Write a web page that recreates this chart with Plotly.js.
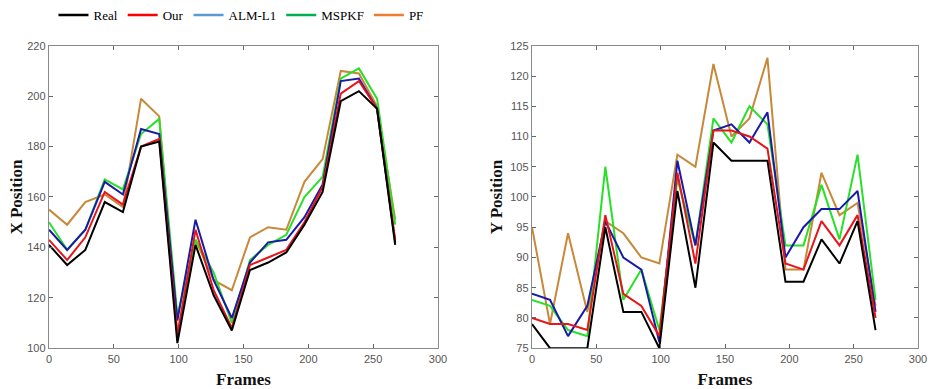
<!DOCTYPE html>
<html><head><meta charset="utf-8">
<script src="https://cdn.plot.ly/plotly-3.0.1.min.js"></script>
<style>html,body{margin:0;padding:0;background:#fff}#chart{width:934px;height:389px}</style>
</head><body><div id="chart"></div>
<script>
const frames = [0,14,28,43,57,71,85,99,113,127,141,155,169,183,197,211,225,239,253,267];
const seriesNames = ["Real","Our","ALM-L1","MSPKF","PF"];
const legendColors = ["#000000","#ff0000","#5b9bd5","#00b050","#ed7d31"];
const lineColors = ["#000000","#e8141c","#1a1aa8","#28e028","#c8883a"];

// X position (left chart)
const xReal  = [141,133,139,158,154,180,182,102,141,121,107,131,134,138,149,162,198,202,195,141];
const xOur   = [143,135,144,162,157,180,183,105,147,123,108,133,136,139,150,164,201,206,195,143];
const xALM   = [147,139,147,166,161,187,185,111,151,127,112,134,142,143,152,165,206,207,195,142];
const xMSPKF = [150,139,147,167,163,185,191,113,143,130,110,135,141,145,160,168,207,211,199,149];
const xPF    = [155,149,158,161,156,199,192,106,143,127,123,144,148,147,166,175,210,209,196,151];

// Y position (right chart)
const yReal  = [79,75,75,75,95,81,81,75,101,85,109,106,106,106,86,86,93,89,96,78];
const yOur   = [80,79,79,78,97,84,82,77,104,89,111,111,110,108,89,88,96,92,97,80];
const yALM   = [84,83,77,82,96,90,88,76,106,92,111,112,109,114,90,95,98,98,101,81];
const yMSPKF = [83,82,78,77,105,83,88,78,103,92,113,109,115,112,92,92,102,93,107,83];
const yPF    = [95,79,94,81,96,94,90,89,107,105,122,110,113,123,88,88,104,97,99,82];

const xSets = [xReal,xOur,xALM,xMSPKF,xPF];
const ySets = [yReal,yOur,yALM,yMSPKF,yPF];

const traces = [];
const order = [4,3,2,1,0];
order.forEach(i => {
  traces.push({x: frames, y: xSets[i], type:'scatter', mode:'lines', name: seriesNames[i],
    line:{color: lineColors[i], width:2}, showlegend:false, xaxis:'x', yaxis:'y', hoverinfo:'skip'});
  traces.push({x: frames, y: ySets[i], type:'scatter', mode:'lines', name: seriesNames[i],
    line:{color: lineColors[i], width:2}, showlegend:false, xaxis:'x2', yaxis:'y2', hoverinfo:'skip'});
});
seriesNames.forEach((n,i) => {
  traces.push({x:[null], y:[null], type:'scatter', mode:'lines', name:n,
    line:{color: legendColors[i], width:2.5}, showlegend:true, xaxis:'x', yaxis:'y'});
});

const tickFont = {family:'Liberation Sans, Arial, sans-serif', size:11, color:'#555'};
const titleFont = {family:'Liberation Serif, Times New Roman, serif', size:17, color:'#111', weight:'bold'};
const axBase = {showline:true, linecolor:'#8a8a8a', linewidth:1.2, mirror:'ticks', ticks:'inside',
  ticklen:4, tickcolor:'#666', showgrid:false, zeroline:false, tickfont:tickFont};

const yDom = [1-348/389, 1-44/389];
const layout = {
  width:934, height:389,
  margin:{l:0,r:0,t:0,b:0},
  paper_bgcolor:'#fff', plot_bgcolor:'#fff',
  showlegend:true,
  legend:{orientation:'h', x:0.258, xanchor:'center', y:1.005, yanchor:'top',
    font:{family:'Liberation Serif, Times New Roman, serif', size:13, color:'#000'},
    itemwidth:30, tracegroupgap:0, bgcolor:'rgba(0,0,0,0)'},
  xaxis: Object.assign({}, axBase, {domain:[49/934, 438/934], range:[0,300], dtick:50, tick0:0,
    title:{text:'Frames', font:titleFont, standoff:9}, anchor:'y'}),
  yaxis: Object.assign({}, axBase, {domain:yDom, range:[100,220], dtick:20, tick0:100,
    title:{text:'X Position', font:titleFont, standoff:0}, anchor:'x'}),
  xaxis2: Object.assign({}, axBase, {domain:[532/934, 918/934], range:[0,300], dtick:50, tick0:0,
    title:{text:'Frames', font:titleFont, standoff:9}, anchor:'y2'}),
  yaxis2: Object.assign({}, axBase, {domain:yDom, range:[75,125], dtick:5, tick0:75,
    title:{text:'Y Position', font:titleFont, standoff:3}, anchor:'x2'})
};
Plotly.newPlot('chart', traces, layout, {displayModeBar:false, staticPlot:true});
</script>
</body></html>
